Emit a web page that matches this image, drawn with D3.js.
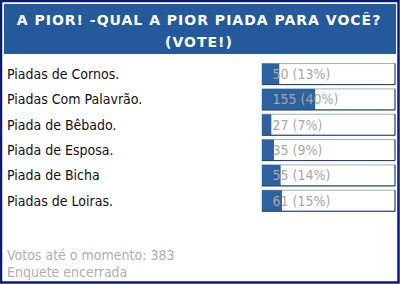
<!DOCTYPE html>
<html>
<head>
<meta charset="utf-8">
<script src="https://cdn.jsdelivr.net/npm/d3@7.9.0/dist/d3.min.js"></script>
<style>
  html, body { margin: 0; padding: 0; background: #fff; }
  svg { display: block; }
</style>
</head>
<body>
<svg id="chart" width="400" height="284"></svg>
<script>
const titleLines = ['A PIOR! -QUAL A PIOR PIADA PARA VOCÊ?', '(VOTE!)'];
const options = ['Piadas de Cornos.', 'Piadas Com Palavrão.', 'Piada de Bêbado.', 'Piada de Esposa.', 'Piada de Bicha', 'Piadas de Loiras.'];
const votes = [50, 155, 27, 35, 55, 61];
const percents = [13, 40, 7, 9, 14, 15];
const footer = ['Votos até o momento: 383', 'Enquete encerrada'];

const svg = d3.select('#chart');
const W = 400, H = 284;
const font = '"DejaVu Sans Condensed", "DejaVu Sans", sans-serif';

// frame
svg.append('rect').attr('x', 1).attr('y', 1).attr('width', W - 2.5).attr('height', H - 2.5)
  .attr('fill', '#fff').attr('stroke', '#0a1a78').attr('stroke-width', 2.5);

// header
svg.append('rect').attr('x', 4).attr('y', 4).attr('width', 392).attr('height', 50).attr('fill', '#245a9b');
svg.selectAll('text.title').data(titleLines).join('text')
  .attr('class', 'title')
  .attr('x', 199).attr('y', (d, i) => 25 + i * 22)
  .attr('text-anchor', 'middle')
  .attr('fill', '#fff').attr('font-family', '"DejaVu Sans", sans-serif').attr('font-weight', 'bold').attr('font-size', 14)
  .attr('letter-spacing', 1)
  .text(d => d);

const y = d3.scaleBand().domain(options).range([61.4, 213.4]).paddingInner(0.13).paddingOuter(0.065);
const x = d3.scaleLinear().domain([0, 100]).range([262, 395]);

const rows = svg.selectAll('g.row').data(options).join('g')
  .attr('class', 'row')
  .attr('transform', d => `translate(0,${y(d)})`);

rows.append('text')
  .attr('x', 7).attr('y', y.bandwidth() / 2 + 5)
  .attr('fill', '#111').attr('font-family', font).attr('font-size', 14)
  .text(d => d);

rows.append('rect')
  .attr('x', x(0)).attr('y', 0.5).attr('width', x(100) - x(0)).attr('height', y.bandwidth() - 1)
  .attr('fill', '#fff').attr('stroke', '#9fb0c0').attr('stroke-width', 1);

rows.append('rect')
  .attr('x', x(0)).attr('y', 0.5)
  .attr('width', (d, i) => x(percents[i]) - x(0)).attr('height', y.bandwidth() - 1)
  .attr('fill', '#2d62a0');

rows.append('path')
  .attr('d', `M${x(0)},${y.bandwidth() - 0.5}H${x(100)}V0.5`)
  .attr('fill', 'none').attr('stroke', '#1e3c6e').attr('stroke-width', 1);

rows.append('text')
  .attr('x', 272.5).attr('y', y.bandwidth() / 2 + 5)
  .attr('fill', '#a8a8a8').attr('font-family', font).attr('font-size', 14)
  .text((d, i) => `${votes[i]} (${percents[i]}%)`);

svg.selectAll('text.foot').data(footer).join('text')
  .attr('class', 'foot')
  .attr('x', 7).attr('y', (d, i) => 260 + i * 17)
  .attr('fill', '#b0b0b0').attr('font-family', font).attr('font-size', 14)
  .text(d => d);
</script>
</body>
</html>
